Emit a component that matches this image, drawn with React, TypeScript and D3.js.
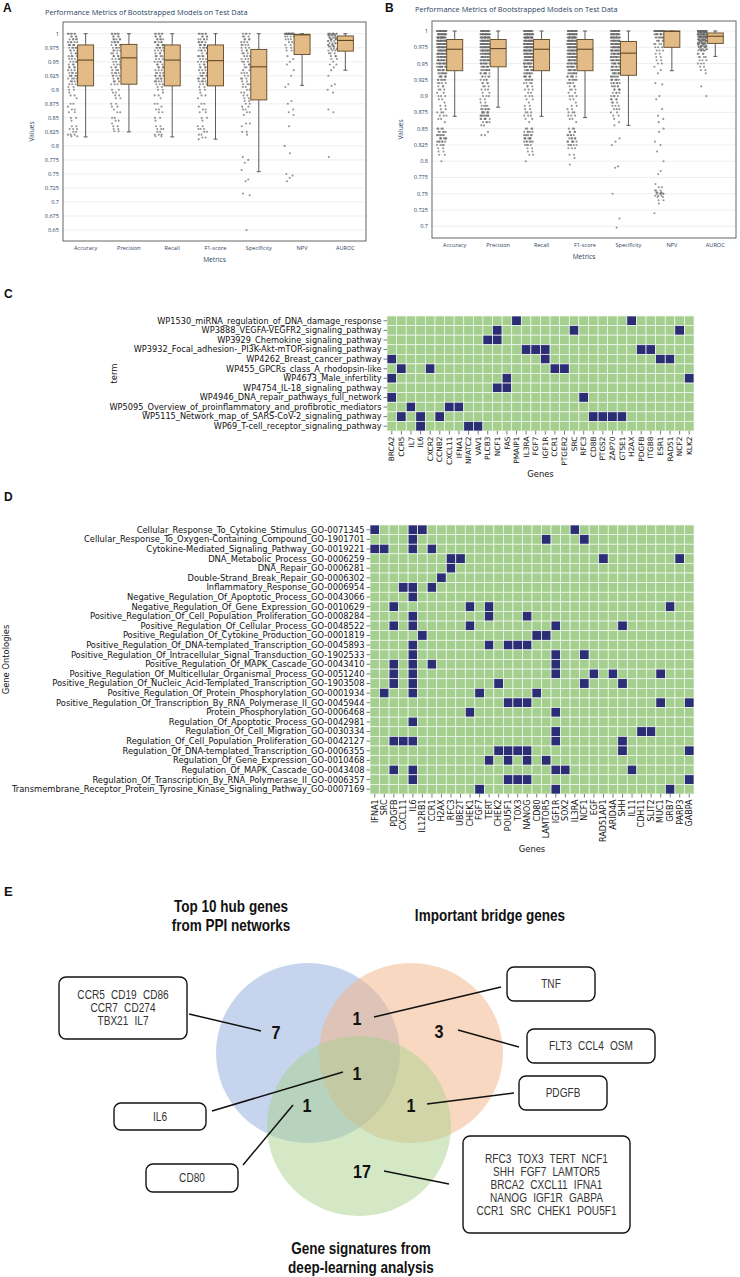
import React from 'react';
import * as d3 from 'd3';

// ---------------- Panel A / B data ----------------
const METRICS = ['Accuracy', 'Precision', 'Recall', 'F1-score', 'Specificity', 'NPV', 'AUROC'];

// [max whisker, Q3, median, Q1, min whisker]
const STATS_A = [
  [1.0, 0.980, 0.953, 0.907, 0.816],
  [1.0, 0.981, 0.957, 0.910, 0.825],
  [1.0, 0.980, 0.953, 0.907, 0.816],
  [1.0, 0.980, 0.952, 0.907, 0.812],
  [1.0, 0.972, 0.941, 0.882, 0.754],
  [1.0, 0.999, 0.998, 0.963, 0.908],
  [1.0, 0.996, 0.988, 0.969, 0.935],
];
const STATS_B = [
  [1.0, 0.987, 0.972, 0.939, 0.869],
  [1.0, 0.987, 0.973, 0.945, 0.883],
  [1.0, 0.987, 0.972, 0.939, 0.869],
  [1.0, 0.987, 0.972, 0.939, 0.867],
  [1.0, 0.984, 0.966, 0.932, 0.855],
  [1.0, 1.0, 0.9995, 0.975, 0.939],
  [1.0, 0.997, 0.992, 0.981, 0.961],
];

const TICKS_A = [0.65, 0.675, 0.7, 0.725, 0.75, 0.775, 0.8, 0.825, 0.85, 0.875, 0.9, 0.925, 0.95, 0.975, 1];
const TICKS_B = [0.7, 0.725, 0.75, 0.775, 0.8, 0.825, 0.85, 0.875, 0.9, 0.925, 0.95, 0.975, 1];

// points: [value, count]
const PTS_A_ACC = [[1,6],[0.995,4],[0.99,5],[0.985,5],[0.98,6],[0.975,5],[0.97,4],[0.965,3],[0.96,4],[0.955,3],[0.95,4],[0.945,3],[0.94,4],[0.935,3],[0.93,4],[0.925,5],[0.92,4],[0.915,4],[0.91,3],[0.905,2],[0.9,2],[0.895,1],[0.89,2],[0.885,1],[0.875,2],[0.87,1],[0.865,2],[0.86,2],[0.85,2],[0.845,1],[0.835,2],[0.83,3],[0.825,2],[0.82,3],[0.817,2]];
const PTS_A_PRE = [[1,6],[0.995,4],[0.99,5],[0.985,5],[0.98,5],[0.975,4],[0.97,4],[0.965,3],[0.96,4],[0.955,4],[0.95,3],[0.945,3],[0.94,4],[0.935,3],[0.93,4],[0.925,4],[0.92,3],[0.915,3],[0.91,3],[0.9,2],[0.895,2],[0.89,2],[0.885,2],[0.875,2],[0.87,2],[0.865,1],[0.86,2],[0.85,2],[0.845,2],[0.84,1],[0.835,2],[0.83,2],[0.826,2]];
const PTS_A_REC = [[1,6],[0.995,4],[0.99,5],[0.985,5],[0.98,6],[0.975,5],[0.97,4],[0.965,3],[0.96,4],[0.955,3],[0.95,4],[0.945,3],[0.94,4],[0.935,3],[0.93,4],[0.925,5],[0.92,4],[0.915,4],[0.91,3],[0.905,2],[0.9,2],[0.895,1],[0.89,2],[0.885,1],[0.875,2],[0.87,1],[0.865,2],[0.86,2],[0.85,2],[0.845,1],[0.835,2],[0.83,3],[0.825,2],[0.82,3],[0.817,2]];
const PTS_A_F1 = [[1,6],[0.995,4],[0.99,5],[0.985,5],[0.98,6],[0.975,5],[0.97,4],[0.965,3],[0.96,4],[0.955,3],[0.95,4],[0.945,3],[0.94,4],[0.935,3],[0.93,4],[0.925,5],[0.92,4],[0.915,4],[0.91,3],[0.905,2],[0.9,2],[0.895,1],[0.89,2],[0.885,1],[0.875,2],[0.87,1],[0.865,2],[0.86,2],[0.85,2],[0.845,1],[0.835,2],[0.83,3],[0.825,2],[0.82,2],[0.815,2],[0.812,1]];
const PTS_A_SPE = [[1,4],[0.995,3],[0.99,4],[0.985,3],[0.98,4],[0.975,3],[0.97,3],[0.965,3],[0.96,3],[0.955,3],[0.95,3],[0.945,3],[0.94,3],[0.935,2],[0.93,3],[0.925,2],[0.92,3],[0.915,2],[0.91,3],[0.905,2],[0.9,2],[0.895,2],[0.89,2],[0.885,2],[0.88,2],[0.875,2],[0.87,2],[0.865,2],[0.86,2],[0.855,1],[0.84,2],[0.835,1],[0.825,2],[0.82,1],[0.78,1],[0.775,1],[0.77,1],[0.757,1],[0.74,1],[0.737,1],[0.715,1],[0.712,1],[0.65,1]];
const PTS_A_NPV = [[1,25],[0.995,4],[0.99,3],[0.985,2],[0.98,2],[0.975,2],[0.97,2],[0.96,1],[0.955,1],[0.95,1],[0.945,1],[0.935,1],[0.925,1],[0.91,1],[0.905,1],[0.88,1],[0.875,1],[0.865,1],[0.86,1],[0.855,1],[0.835,1],[0.8,1],[0.787,1],[0.75,1],[0.747,1],[0.743,1],[0.737,1]];
const PTS_A_AUC = [[1,10],[0.997,6],[0.993,5],[0.99,5],[0.987,4],[0.983,4],[0.98,4],[0.977,4],[0.973,3],[0.97,3],[0.965,3],[0.96,3],[0.955,2],[0.95,1],[0.945,2],[0.94,1],[0.935,1],[0.925,1],[0.91,1],[0.907,1],[0.9,1],[0.895,1],[0.865,1],[0.86,1],[0.78,1]];

const PTS_B_ACC = [[1,20],[0.995,20],[0.99,20],[0.985,20],[0.98,18],[0.975,18],[0.97,16],[0.965,15],[0.96,14],[0.955,12],[0.95,12],[0.945,10],[0.94,9],[0.935,8],[0.93,7],[0.925,6],[0.92,4],[0.915,3],[0.91,3],[0.905,2],[0.9,3],[0.895,2],[0.89,1],[0.885,2],[0.88,2],[0.875,3],[0.87,3],[0.865,2],[0.86,1],[0.85,4],[0.845,5],[0.84,6],[0.835,7],[0.83,6],[0.825,4],[0.82,2],[0.815,2],[0.81,2],[0.8,1]];
const PTS_B_PRE = [[1,20],[0.995,20],[0.99,20],[0.985,20],[0.98,18],[0.975,18],[0.97,16],[0.965,14],[0.96,12],[0.955,12],[0.95,10],[0.945,9],[0.94,8],[0.935,7],[0.93,5],[0.925,4],[0.92,4],[0.915,3],[0.91,3],[0.905,2],[0.9,3],[0.895,2],[0.89,2],[0.885,4],[0.88,6],[0.875,7],[0.87,8],[0.865,6],[0.86,4],[0.855,2],[0.845,1],[0.84,2]];
const PTS_B_REC = [[1,20],[0.995,20],[0.99,20],[0.985,20],[0.98,18],[0.975,18],[0.97,16],[0.965,15],[0.96,14],[0.955,12],[0.95,12],[0.945,10],[0.94,9],[0.935,8],[0.93,7],[0.925,6],[0.92,4],[0.915,3],[0.91,3],[0.905,2],[0.9,3],[0.895,2],[0.89,1],[0.885,2],[0.88,2],[0.875,3],[0.87,3],[0.865,2],[0.86,1],[0.85,4],[0.845,5],[0.84,6],[0.835,7],[0.83,6],[0.825,4],[0.82,2],[0.815,2],[0.81,2],[0.8,1]];
const PTS_B_F1 = [[1,20],[0.995,20],[0.99,20],[0.985,20],[0.98,18],[0.975,18],[0.97,16],[0.965,15],[0.96,14],[0.955,12],[0.95,12],[0.945,10],[0.94,9],[0.935,8],[0.93,7],[0.925,6],[0.92,4],[0.915,3],[0.91,3],[0.905,2],[0.9,3],[0.895,2],[0.89,1],[0.885,2],[0.88,2],[0.875,3],[0.87,3],[0.865,2],[0.86,1],[0.85,3],[0.845,4],[0.84,5],[0.835,5],[0.83,6],[0.825,5],[0.82,3],[0.81,2],[0.805,1],[0.795,1]];
const PTS_B_SPE = [[1,20],[0.995,18],[0.99,18],[0.985,16],[0.98,16],[0.975,15],[0.97,14],[0.965,13],[0.96,12],[0.955,11],[0.95,10],[0.945,9],[0.94,9],[0.935,8],[0.93,7],[0.925,7],[0.92,6],[0.915,5],[0.91,5],[0.905,4],[0.9,4],[0.895,4],[0.89,3],[0.885,3],[0.88,3],[0.875,2],[0.87,2],[0.865,1],[0.86,1],[0.855,1],[0.835,1],[0.83,1],[0.825,1],[0.792,1],[0.79,1],[0.75,1],[0.712,1],[0.698,1]];
const PTS_B_NPV = [[1,60],[0.995,10],[0.99,8],[0.985,5],[0.98,4],[0.975,3],[0.97,3],[0.965,2],[0.96,2],[0.955,2],[0.95,2],[0.945,1],[0.94,1],[0.935,1],[0.92,1],[0.918,1],[0.9,1],[0.895,1],[0.88,1],[0.87,1],[0.865,1],[0.86,1],[0.85,1],[0.845,1],[0.83,1],[0.825,1],[0.815,1],[0.8,1],[0.785,1],[0.78,1],[0.765,1],[0.76,2],[0.755,3],[0.752,4],[0.75,5],[0.747,3],[0.745,2],[0.74,2],[0.735,1],[0.72,1]];
const PTS_B_AUC = [[1,40],[0.998,15],[0.995,15],[0.992,12],[0.99,12],[0.987,10],[0.985,10],[0.982,8],[0.98,8],[0.977,7],[0.975,6],[0.972,5],[0.97,5],[0.965,4],[0.96,4],[0.955,3],[0.95,3],[0.945,2],[0.94,2],[0.935,1],[0.915,1],[0.9,1]];

const POINTS_A = [PTS_A_ACC, PTS_A_PRE, PTS_A_REC, PTS_A_F1, PTS_A_SPE, PTS_A_NPV, PTS_A_AUC];
const POINTS_B = [PTS_B_ACC, PTS_B_PRE, PTS_B_REC, PTS_B_F1, PTS_B_SPE, PTS_B_NPV, PTS_B_AUC];

// ---------------- Panel C data ----------------
const C_TERMS = [
  'WP1530_miRNA_regulation_of_DNA_damage_response',
  'WP3888_VEGFA-VEGFR2_signaling_pathway',
  'WP3929_Chemokine_signaling_pathway',
  'WP3932_Focal_adhesion-_PI3K-Akt-mTOR-signaling_pathway',
  'WP4262_Breast_cancer_pathway',
  'WP455_GPCRs_class_A_rhodopsin-like',
  'WP4673_Male_infertility',
  'WP4754_IL-18_signaling_pathway',
  'WP4946_DNA_repair_pathways_full_network',
  'WP5095_Overview_of_proinflammatory_and_profibrotic_mediators',
  'WP5115_Network_map_of_SARS-CoV-2_signaling_pathway',
  'WP69_T-cell_receptor_signaling_pathway',
];
const C_GENES = ['BRCA2','CCR5','IL7','IL6','CXCR2','CCNB2','CXCL11','IFNA1','NFATC2','VAV1','PLCB3','NCF1','FAS','PMAIP1','IL3RA','FGF7','IGF1R','CCR1','PTGER2','SRC','RFC3','CD8B','PTGS2','ZAP70','GTSE1','H2AX','PDGFB','ITGB8','ESR1','RAD51','NCF2','KLK2'];
const C_HITS = [
  ['PMAIP1','H2AX'],
  ['NCF1','SRC','NCF2'],
  ['PLCB3','NCF1'],
  ['IL3RA','FGF7','IGF1R','PDGFB','ITGB8'],
  ['BRCA2','IGF1R','ESR1','RAD51'],
  ['CCR5','CXCR2','CCR1','PTGER2'],
  ['BRCA2','FAS','KLK2'],
  ['NCF1','FAS'],
  ['BRCA2','RFC3'],
  ['IL7','CXCL11','IFNA1'],
  ['CCR5','IL6','CCNB2','CD8B','PTGS2','ZAP70','GTSE1'],
  ['IL6','NFATC2','VAV1'],
];

// ---------------- Panel D data ----------------
const D_TERMS = [
  'Cellular_Response_To_Cytokine_Stimulus_GO-0071345',
  'Cellular_Response_To_Oxygen-Containing_Compound_GO-1901701',
  'Cytokine-Mediated_Signaling_Pathway_GO-0019221',
  'DNA_Metabolic_Process_GO-0006259',
  'DNA_Repair_GO-0006281',
  'Double-Strand_Break_Repair_GO-0006302',
  'Inflammatory_Response_GO-0006954',
  'Negative_Regulation_Of_Apoptotic_Process_GO-0043066',
  'Negative_Regulation_Of_Gene_Expression_GO-0010629',
  'Positive_Regulation_Of_Cell_Population_Proliferation_GO-0008284',
  'Positive_Regulation_Of_Cellular_Process_GO-0048522',
  'Positive_Regulation_Of_Cytokine_Production_GO-0001819',
  'Positive_Regulation_Of_DNA-templated_Transcription_GO-0045893',
  'Positive_Regulation_Of_Intracellular_Signal_Transduction_GO-1902533',
  'Positive_Regulation_Of_MAPK_Cascade_GO-0043410',
  'Positive_Regulation_Of_Multicellular_Organismal_Process_GO-0051240',
  'Positive_Regulation_Of_Nucleic_Acid-Templated_Transcription_GO-1903508',
  'Positive_Regulation_Of_Protein_Phosphorylation_GO-0001934',
  'Positive_Regulation_Of_Transcription_By_RNA_Polymerase_II_GO-0045944',
  'Protein_Phosphorylation_GO-0006468',
  'Regulation_Of_Apoptotic_Process_GO-0042981',
  'Regulation_Of_Cell_Migration_GO-0030334',
  'Regulation_Of_Cell_Population_Proliferation_GO-0042127',
  'Regulation_Of_DNA-templated_Transcription_GO-0006355',
  'Regulation_Of_Gene_Expression_GO-0010468',
  'Regulation_Of_MAPK_Cascade_GO-0043408',
  'Regulation_Of_Transcription_By_RNA_Polymerase_II_GO-0006357',
  'Transmembrane_Receptor_Protein_Tyrosine_Kinase_Signaling_Pathway_GO-0007169',
];
const D_GENES = ['IFNA1','SRC','PDGFB','CXCL11','IL6','IL12RB1','CCR1','H2AX','RFC3','UBE2T','CHEK1','FGF7','TERT','CHEK2','POU5F1','TOX3','NANOG','CD80','LAMTOR5','IGF1R','SOX2','IL3RA','NCF1','EGF','RAD51AP1','ARID4A','SHH','IL11','CDH11','SLIT2','MUC1','GRB7','PARP3','GABPA'];
const D_HITS = [
  ['IFNA1','IL6','IL12RB1','IL3RA'],
  ['IL6','LAMTOR5','NCF1'],
  ['IFNA1','SRC','IL6','CCR1'],
  ['RFC3','UBE2T','RAD51AP1','PARP3'],
  ['RFC3'],
  ['H2AX'],
  ['CXCL11','IL6','CCR1'],
  ['IL6'],
  ['PDGFB','CHEK1','TERT','GRB7'],
  ['IL6','TERT','NANOG'],
  ['PDGFB','IL6','CHEK1','IGF1R','SHH'],
  ['IL12RB1','CD80','LAMTOR5'],
  ['IL6','TERT','POU5F1','TOX3','NANOG'],
  ['IL6','IGF1R','NCF1'],
  ['PDGFB','IL6','CCR1','IGF1R'],
  ['PDGFB','IL6','IGF1R','EGF','ARID4A','MUC1'],
  ['PDGFB','IL6','CHEK2','NCF1','SHH'],
  ['SRC','IL6','FGF7','CD80'],
  ['POU5F1','TOX3','NANOG','MUC1','GABPA'],
  ['CHEK1','IGF1R'],
  ['IL6'],
  ['IGF1R','CDH11','SLIT2'],
  ['PDGFB','CXCL11','IL6','IGF1R','SHH'],
  ['CHEK2','POU5F1','TOX3','NANOG','SHH','GABPA'],
  ['TERT','POU5F1','NANOG','LAMTOR5'],
  ['PDGFB','IL6','IGF1R','SOX2','IL11'],
  ['IL6','POU5F1','TOX3','NANOG','GABPA'],
  ['FGF7','IGF1R','GRB7'],
];

// ---------------- Panel E data ----------------
const VENN_SETS = ['Top 10 hub genes\nfrom PPI networks', 'Important bridge genes', 'Gene signatures from\ndeep-learning analysis'];
const VENN_COUNTS = [7, 3, 17, 1, 1, 1, 1]; // hub, bridge, deep, hub∩bridge, hub∩bridge∩deep, hub∩deep, bridge∩deep
const HUB_ONLY = [['CCR5', 'CD19', 'CD86'], ['CCR7', 'CD274'], ['TBX21', 'IL7']];
const BRIDGE_ONLY = [['FLT3', 'CCL4', 'OSM']];
const DEEP_ONLY = [['RFC3', 'TOX3', 'TERT', 'NCF1'], ['SHH', 'FGF7', 'LAMTOR5'], ['BRCA2', 'CXCL11', 'IFNA1'], ['NANOG', 'IGF1R', 'GABPA'], ['CCR1', 'SRC', 'CHEK1', 'POU5F1']];
const HUB_BRIDGE = [['TNF']];
const ALL_THREE = [['IL6']];
const HUB_DEEP = [['CD80']];
const BRIDGE_DEEP = [['PDGFB']];

// ---------------- helpers ----------------
const PLOTLY_FONT = '"Open Sans", verdana, arial, sans-serif';
const MPL_FONT = '"DejaVu Sans", sans-serif';
const NARROW = '"Liberation Sans Narrow", "Liberation Sans", Arial, sans-serif';
const AXIS_COLOR = '#2a3f5f';

function expand(pairs: number[][]): number[] {
  const out: number[] = [];
  pairs.forEach(([v, n]) => { for (let k = 0; k < n; k++) out.push(v); });
  return out;
}
function jitter(j: number, i: number) {
  const f = ((j * 0.6180339887 + i * 0.37 + Math.sin(j * 12.9898) * 0.25) % 1 + 1) % 1;
  return f - 0.5;
}
function fmt(v: number) { return String(+v.toFixed(3)); }

function BoxPanel(props: any) {
  const { left, right, top, bottom, domain, ticks, stats, points, letter, letterX, letterY, titleX, titleY } = props;
  const x = d3.scaleBand().domain(METRICS).range([left, right]);
  const y = d3.scaleLinear().domain(domain).range([bottom, top]);
  const bw = 16;
  return (
    <g>
      <text x={letterX} y={letterY} fontFamily='"Liberation Sans", Arial, sans-serif' fontWeight="bold" fontSize={12} fill="#111">{letter}</text>
      <text x={titleX} y={titleY} fontFamily={PLOTLY_FONT} fontSize={7.4} fill={AXIS_COLOR}>Performance Metrics of Bootstrapped Models on Test Data</text>
      {ticks.map((t: number) => (
        <line key={'g' + t} x1={left} x2={right} y1={y(t)} y2={y(t)} stroke="#ebebeb" strokeWidth={0.8} />
      ))}
      {ticks.map((t: number) => (
        <text key={'t' + t} x={left - 4} y={y(t)} dy="0.35em" textAnchor="end" fontFamily={PLOTLY_FONT} fontSize={5.6} fill={AXIS_COLOR}>{fmt(t)}</text>
      ))}
      {METRICS.map((m, i) => {
        const cx = (x(m) as number) + x.bandwidth() / 2 + 1;
        const [mx, q3, med, q1, mn] = stats[i];
        const pts = expand(points[i]);
        return (
          <g key={m}>
            {pts.map((v, j) => (
              <circle key={j} cx={cx - 13 + jitter(j, i) * 9.5} cy={y(v)} r={1.05} fill="#6a6a6a" fillOpacity={0.7} />
            ))}
            <line x1={cx} x2={cx} y1={y(mx)} y2={y(q3)} stroke="#4a4a4a" strokeWidth={0.9} />
            <line x1={cx} x2={cx} y1={y(q1)} y2={y(mn)} stroke="#4a4a4a" strokeWidth={0.9} />
            <line x1={cx - 2} x2={cx + 2} y1={y(mx)} y2={y(mx)} stroke="#4a4a4a" strokeWidth={0.9} />
            <line x1={cx - 2} x2={cx + 2} y1={y(mn)} y2={y(mn)} stroke="#4a4a4a" strokeWidth={0.9} />
            <rect x={cx - bw / 2} y={y(q3)} width={bw} height={Math.max(0.5, y(q1) - y(q3))} fill="#e3bb86" stroke="#5e4727" strokeWidth={0.9} />
            <line x1={cx - bw / 2} x2={cx + bw / 2} y1={y(med)} y2={y(med)} stroke="#5e4727" strokeWidth={1.1} />
            <text x={cx} y={bottom + 9} textAnchor="middle" fontFamily={PLOTLY_FONT} fontSize={5.6} fill={AXIS_COLOR}>{m}</text>
          </g>
        );
      })}
      <rect x={left} y={top} width={right - left} height={bottom - top} fill="none" stroke="#555" strokeWidth={0.9} />
      <text x={(left + right) / 2} y={bottom + 21} textAnchor="middle" fontFamily={PLOTLY_FONT} fontSize={6.6} fill={AXIS_COLOR}>Metrics</text>
      <text transform={`translate(${left - 29},${(top + bottom) / 2}) rotate(-90)`} textAnchor="middle" fontFamily={PLOTLY_FONT} fontSize={6.6} fill={AXIS_COLOR}>Values</text>
    </g>
  );
}

function Heatmap(props: any) {
  const { rows, cols, hits, left, top, right, bottom, fs, xfs, yTitle, yTitleX, xTitleY } = props;
  const x = d3.scaleBand().domain(cols).range([left, right]);
  const y = d3.scaleBand().domain(rows).range([top, bottom]);
  const green = '#a5cf8f';
  const navy = '#2b2d75';
  return (
    <g>
      {rows.map((r: string, ri: number) => cols.map((c: string) => (
        <rect key={r + c} x={x(c)} y={y(r)} width={x.bandwidth()} height={y.bandwidth()}
          fill={hits[ri].includes(c) ? navy : green} stroke="#f4f8f2" strokeWidth={0.7} />
      )))}
      {rows.map((r: string) => {
        const cy = (y(r) as number) + y.bandwidth() / 2;
        return (
          <g key={'rl' + r}>
            <line x1={left - 3.5} x2={left} y1={cy} y2={cy} stroke="#222" strokeWidth={0.6} />
            <text x={left - 5.5} y={cy} dy="0.35em" textAnchor="end" fontFamily={MPL_FONT} fontSize={fs} fill="#111">{r}</text>
          </g>
        );
      })}
      {cols.map((c: string) => {
        const cx = (x(c) as number) + x.bandwidth() / 2;
        return (
          <g key={'cl' + c}>
            <line x1={cx} x2={cx} y1={bottom} y2={bottom + 3.5} stroke="#222" strokeWidth={0.6} />
            <text transform={`translate(${cx},${bottom + 5.5}) rotate(-90)`} dy="0.35em" textAnchor="end" fontFamily={MPL_FONT} fontSize={xfs} fill="#111">{c}</text>
          </g>
        );
      })}
      <text transform={`translate(${yTitleX},${(top + bottom) / 2}) rotate(-90)`} textAnchor="middle" dy="0.35em" fontFamily={MPL_FONT} fontSize={8.4} fill="#111">{yTitle}</text>
      <text x={(left + right) / 2} y={xTitleY} textAnchor="middle" fontFamily={MPL_FONT} fontSize={8.4} fill="#111">Genes</text>
    </g>
  );
}

// condensed text (Calibri-like look)
function CText({ x, y, sx, children, anchor, ...rest }: any) {
  return (
    <text transform={`translate(${x},${y}) scale(${sx},1)`} textAnchor={anchor || 'middle'} {...rest}>{children}</text>
  );
}

function GeneBox({ x, y, w, h, lines, lh }: any) {
  const n = lines.length;
  const cy = y + h / 2;
  return (
    <g>
      <rect x={x} y={y} width={w} height={h} rx={7} ry={7} fill="#fff" stroke="#111" strokeWidth={1.4} />
      {lines.map((ln: string[], k: number) => (
        <CText key={k} x={x + w / 2} y={cy + (k - (n - 1) / 2) * lh} sx={0.84} dy="0.35em"
          fontFamily={NARROW} fontSize={12} fill="#333" wordSpacing={4}>{ln.join(' ')}</CText>
      ))}
    </g>
  );
}

function Venn() {
  const circles = [
    { cx: 308, cy: 1053, fill: '#8eaadb' },
    { cx: 411, cy: 1053, fill: '#f4b183' },
    { cx: 359, cy: 1126, fill: '#a9d18e' },
  ];
  const numStyle = { fontFamily: NARROW, fontWeight: 'bold' as const, fontSize: 19, fill: '#111' };
  const numPos = [
    [276, 1032], [439, 1031], [362, 1171], [357, 1018], [357, 1073], [307, 1105], [411, 1105],
  ];
  const titleStyle = { fontFamily: NARROW, fontWeight: 'bold' as const, fontSize: 16.5, fill: '#111' };
  const lineProps = { stroke: '#111', strokeWidth: 1.5 };
  const t0 = VENN_SETS[0].split('\n');
  const t2 = VENN_SETS[2].split('\n');
  const s = 0.82;
  return (
    <g>
      <text x={4} y={896} fontFamily='"Liberation Sans", Arial, sans-serif' fontWeight="bold" fontSize={13} fill="#111">E</text>
      {circles.map((c, i) => (
        <ellipse key={i} cx={c.cx} cy={c.cy} rx={92} ry={90} fill={c.fill} fillOpacity={0.5} />
      ))}
      <CText x={231} y={912} sx={s} {...titleStyle}>{t0[0]}</CText>
      <CText x={231} y={931} sx={s} {...titleStyle}>{t0[1]}</CText>
      <CText x={490} y={921} sx={s} {...titleStyle}>{VENN_SETS[1]}</CText>
      <CText x={361} y={1254} sx={s} {...titleStyle}>{t2[0]}</CText>
      <CText x={361} y={1273} sx={s} {...titleStyle}>{t2[1]}</CText>
      {VENN_COUNTS.map((n, i) => (
        <CText key={i} x={numPos[i][0]} y={numPos[i][1]} sx={0.85} dy="0.35em" {...numStyle}>{n}</CText>
      ))}
      {/* leader lines */}
      <line x1={189} y1={1014} x2={261} y2={1031} {...lineProps} />
      <line x1={374} y1={1017} x2={501} y2={987} {...lineProps} />
      <line x1={458} y1={1030} x2={519} y2={1047} {...lineProps} />
      <line x1={427} y1={1104} x2={514} y2={1093} {...lineProps} />
      <line x1={212} y1={1111} x2={343} y2={1072} {...lineProps} />
      <line x1={243} y1={1165} x2={293} y2={1105} {...lineProps} />
      <line x1={384} y1={1171} x2={449} y2={1184} {...lineProps} />
      <GeneBox x={59} y={977} w={128} h={62} lines={HUB_ONLY} lh={13} />
      <GeneBox x={507} y={967} w={88} h={34} lines={HUB_BRIDGE} lh={13} />
      <GeneBox x={527} y={1029} w={128} h={34} lines={BRIDGE_ONLY} lh={13} />
      <GeneBox x={519} y={1076} w={88} h={34} lines={BRIDGE_DEEP} lh={13} />
      <GeneBox x={114} y={1103} w={92} h={27} lines={ALL_THREE} lh={13} />
      <GeneBox x={146} y={1164} w={92} h={28} lines={HUB_DEEP} lh={13} />
      <GeneBox x={463} y={1136} w={167} h={97} lines={DEEP_ONLY} lh={13} />
    </g>
  );
}

export default function App() {
  return (
    <div style={{ position: 'absolute', left: 0, top: 0 }}>
      <svg width={740} height={1277} style={{ display: 'block', background: '#fff' }}>
        <BoxPanel left={63} right={366} top={22} bottom={241} domain={[0.6304, 1.0209]} ticks={TICKS_A}
          stats={STATS_A} points={POINTS_A} letter="A" letterX={3} letterY={12} titleX={45} titleY={15} />
        <BoxPanel left={432} right={736} top={21} bottom={238} domain={[0.682, 1.0154]} ticks={TICKS_B}
          stats={STATS_B} points={POINTS_B} letter="B" letterX={385} letterY={12} titleX={415} titleY={12} />
        <text x={4} y={298} fontFamily='"Liberation Sans", Arial, sans-serif' fontWeight="bold" fontSize={12} fill="#111">C</text>
        <Heatmap rows={C_TERMS} cols={C_GENES} hits={C_HITS} left={387} right={694} top={316} bottom={431}
          fs={8.2} xfs={7.4} yTitle="term" yTitleX={114} xTitleY={477} />
        <text x={4} y={501} fontFamily='"Liberation Sans", Arial, sans-serif' fontWeight="bold" fontSize={12} fill="#111">D</text>
        <Heatmap rows={D_TERMS} cols={D_GENES} hits={D_HITS} left={370} right={694} top={525} bottom={794}
          fs={8.35} xfs={8} yTitle="Gene Ontologies" yTitleX={6} xTitleY={852} />
        <Venn />
      </svg>
    </div>
  );
}
